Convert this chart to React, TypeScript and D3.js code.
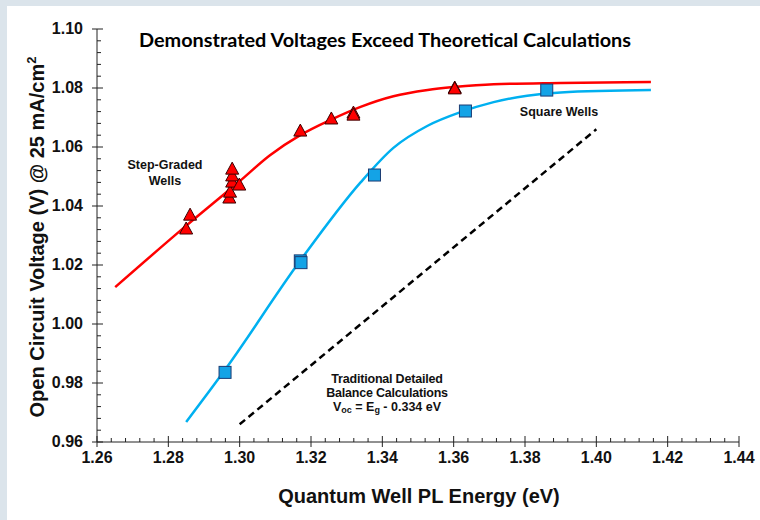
import React from 'react';
import * as d3 from 'd3';

// measured points
const stepGradedE = [1.2850, 1.2861, 1.2971, 1.2973, 1.2979, 1.2979, 1.2979, 1.2999, 1.3170, 1.3257, 1.3319, 1.3319, 1.3603, 1.3603];
const stepGradedV = [1.0322, 1.0369, 1.0427, 1.0447, 1.0481, 1.0502, 1.0525, 1.0471, 1.0654, 1.0695, 1.0715, 1.0708, 1.0800, 1.0797];
const squareE = [1.2959, 1.3170, 1.3172, 1.3378, 1.3633, 1.3861];
const squareV = [0.9836, 1.0214, 1.0208, 1.0505, 1.0722, 1.0793];

// fitted curves
const stepFitE = [1.2651, 1.2847, 1.2999, 1.3085, 1.3170, 1.3257, 1.3339, 1.3431, 1.3527, 1.3600, 1.3712, 1.3900, 1.4153];
const stepFitV = [1.0125, 1.0330, 1.0483, 1.0572, 1.0640, 1.0693, 1.0736, 1.0772, 1.0793, 1.0803, 1.0813, 1.0817, 1.0820];
const squareFitE = [1.2850, 1.2959, 1.3170, 1.3339, 1.3431, 1.3527, 1.3619, 1.3712, 1.3806, 1.3900, 1.4153];
const squareFitV = [0.9668, 0.9845, 1.0215, 1.0480, 1.0597, 1.0672, 1.0718, 1.0752, 1.0774, 1.0785, 1.0793];

// detailed balance: Voc = Eg - 0.334
const balanceE = [1.30, 1.40];
const balanceV = [0.966, 1.066];

const xTicks = [1.26, 1.28, 1.30, 1.32, 1.34, 1.36, 1.38, 1.40, 1.42, 1.44];
const yTicks = [0.96, 0.98, 1.00, 1.02, 1.04, 1.06, 1.08, 1.10];

const W = 760, H = 520;

export default function App() {
  const x = d3.scaleLinear().domain([1.26, 1.44]).range([97, 739]);
  const y = d3.scaleLinear().domain([0.96, 1.10]).range([442, 29]);

  const stepPath = d3.line<number>().x(d => x(d)).y((d, i) => y(stepFitV[i])).curve(d3.curveMonotoneX)(stepFitE);
  const squarePath = d3.line<number>().x(d => x(d)).y((d, i) => y(squareFitV[i])).curve(d3.curveMonotoneX)(squareFitE);
  const balancePath = d3.line<number>().x(d => x(d)).y((d, i) => y(balanceV[i]))(balanceE);

  const xMinor = d3.range(0, 46).map(i => 1.26 + i * 0.004);
  const yMinor = d3.range(0, 36).map(i => 0.96 + i * 0.004);

  const axisFont = "'Liberation Sans', Arimo, Arial, Helvetica, sans-serif";
  const tri = 'M0,-7L6.5,5L-6.5,5Z';

  return (
    <svg width={W} height={H} style={{ position: 'absolute', left: 0, top: 0 }}>
      <rect x={0} y={0} width={W} height={H} fill="#dbe4eb" />
      <rect x={7} y={6} width={W - 7} height={H - 6} fill="#ffffff" />

      <text x={139} y={47} textLength={492} lengthAdjust="spacingAndGlyphs" fontFamily="Lato, sans-serif" fontWeight="bold" fontSize={19} fill="#000">
        Demonstrated Voltages Exceed Theoretical Calculations
      </text>

      {/* axes */}
      <g stroke="#222" strokeWidth={1}>
        <line x1={x(1.26)} x2={x(1.44)} y1={y(0.96)} y2={y(0.96)} />
        <line x1={x(1.26)} x2={x(1.26)} y1={y(0.96)} y2={y(1.10)} />
        {xMinor.map((v, i) => (
          <line key={'xm' + i} x1={x(v)} x2={x(v)} y1={y(0.96)} y2={y(0.96) - (i % 5 === 0 ? 6 : 4)} />
        ))}
        {xTicks.map(v => (
          <line key={'xt' + v} x1={x(v)} x2={x(v)} y1={y(0.96)} y2={y(0.96) + 5} />
        ))}
        {yMinor.map((v, i) => (
          <line key={'ym' + i} x1={x(1.26)} x2={x(1.26) + (i % 5 === 0 ? 6 : 4)} y1={y(v)} y2={y(v)} />
        ))}
        {yTicks.map(v => (
          <line key={'yt' + v} x1={x(1.26) - 5} x2={x(1.26)} y1={y(v)} y2={y(v)} />
        ))}
      </g>
      <g fontFamily={axisFont} fontWeight="bold" fontSize={16} fill="#111">
        {xTicks.map(v => (
          <text key={'xl' + v} x={x(v)} y={y(0.96) + 21} textAnchor="middle">{v.toFixed(2)}</text>
        ))}
        {yTicks.map(v => (
          <text key={'yl' + v} x={x(1.26) - 14} y={y(v) + 5} textAnchor="end">{v.toFixed(2)}</text>
        ))}
      </g>
      <text x={419} y={503} textAnchor="middle" fontFamily={axisFont} fontWeight="bold" fontSize={20} fill="#111">
        Quantum Well PL Energy (eV)
      </text>
      <text transform="translate(44,237) rotate(-90)" textAnchor="middle" fontFamily={axisFont} fontWeight="bold" fontSize={20} fill="#111">
        Open Circuit Voltage (V)  @ 25 mA/cm<tspan fontSize={13} dy={-8}>2</tspan>
      </text>

      {/* curves */}
      <path d={balancePath || ''} fill="none" stroke="#000" strokeWidth={2.5} strokeDasharray="7,4.5" />
      <path d={stepPath || ''} fill="none" stroke="#ff0000" strokeWidth={2.5} />
      <path d={squarePath || ''} fill="none" stroke="#00b0f0" strokeWidth={2.5} />

      {/* markers */}
      {stepGradedE.map((e, i) => (
        <path key={'t' + i} d={tri} transform={`translate(${x(e)},${y(stepGradedV[i])})`} fill="#ff0000" stroke="#3a0000" strokeWidth={1} />
      ))}
      {squareE.map((e, i) => (
        <rect key={'s' + i} x={x(e) - 6} y={y(squareV[i]) - 6} width={12} height={12} fill="#14a3e6" stroke="#1b3c73" strokeWidth={1} />
      ))}

      {/* annotations */}
      <g fontFamily={axisFont} fontWeight="bold" fontSize={12.5} fill="#111" textAnchor="middle">
        <text x={165} y={169}>Step-Graded</text>
        <text x={165} y={185}>Wells</text>
        <text x={559} y={116}>Square Wells</text>
        <text x={387} y={383} letterSpacing={-0.2}>Traditional Detailed</text>
        <text x={387} y={397} letterSpacing={-0.2}>Balance Calculations</text>
        <text x={387} y={411}>
          V<tspan fontSize={9} dy={2}>oc</tspan><tspan dy={-2}> = E</tspan><tspan fontSize={9} dy={2}>g</tspan><tspan dy={-2}> - 0.334 eV</tspan>
        </text>
      </g>
    </svg>
  );
}
